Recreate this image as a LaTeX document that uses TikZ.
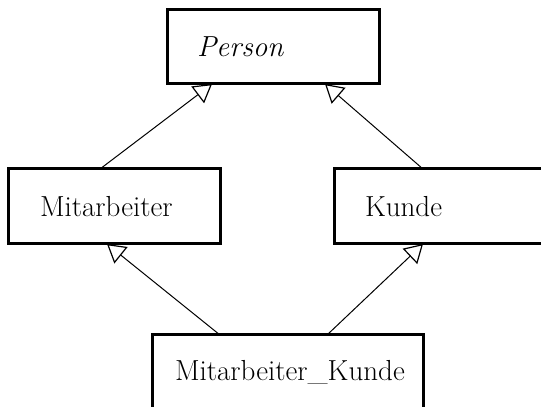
\documentclass[tikz,border=0pt]{standalone}
\usepackage{fontspec}
\usetikzlibrary{arrows.meta,calc}

\begin{document}
\begin{tikzpicture}[x=1pt,y=1pt,
  classbox/.style={draw, line width=3pt, rectangle, outer sep=0pt,
    anchor=north west, align=left, inner ysep=0pt,
    font=\fontsize{29}{32}\selectfont},
  inherit/.style={line width=1pt,
    -{Triangle[open, length=18pt, width=21pt, line width=1.2pt]}}
]
\clip (0,0) rectangle (541,407);
\useasboundingbox (0,0) rectangle (541,407);

% classes
\node[classbox, minimum height=74pt, inner xsep=30pt, text width=152pt]
  (person) at (167,397) {\itshape Person};
\node[classbox, minimum height=75pt, inner xsep=32pt, text width=148pt]
  (mit) at (8,238) {Mitarbeiter};
\node[classbox, minimum height=75pt, inner xsep=31pt, text width=150pt]
  (kunde) at (334,238) {Kunde};
\node[classbox, minimum height=75pt, inner xsep=23pt, text width=225pt]
  (mk) at (152,72) {Mitarbeiter\_Kunde};

% attachment points on the box edges
\coordinate (mitTop)    at ($(mit.north west)+(92,0)$);
\coordinate (kundeTop)  at ($(kunde.north west)+(89,0)$);
\coordinate (personL)   at ($(person.south west)+(45,0)$);
\coordinate (personR)   at ($(person.south west)+(158,0)$);
\coordinate (mkL)       at ($(mk.north west)+(68,0)$);
\coordinate (mkR)       at ($(mk.north west)+(175,0)$);
\coordinate (mitBot)    at ($(mit.south west)+(99,0)$);
\coordinate (kundeBot)  at ($(kunde.south west)+(89,0)$);

% generalisations
\draw[inherit] (mitTop) -- (personL);
\draw[inherit] (kundeTop) -- (personR);
\draw[inherit] (mkL) -- (mitBot);
\draw[inherit] (mkR) -- (kundeBot);
\end{tikzpicture}
\end{document}
